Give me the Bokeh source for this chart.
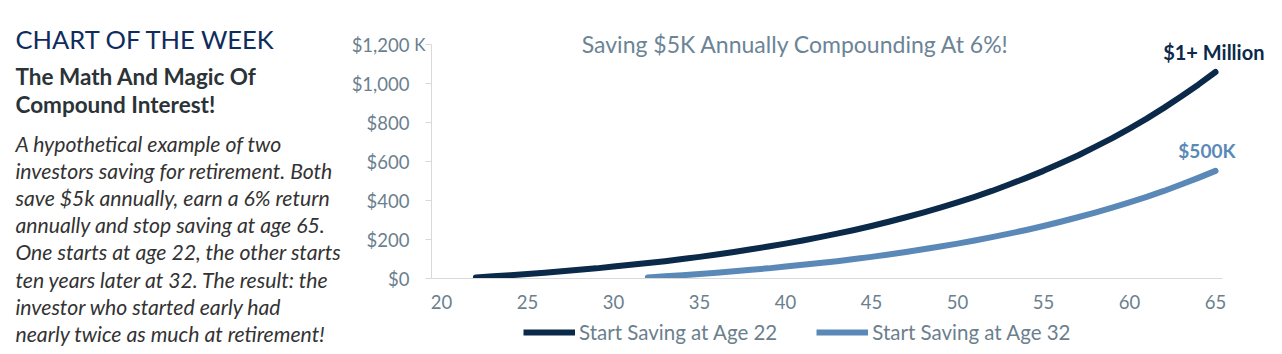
from bokeh.plotting import figure
from bokeh.layouts import row, column
from bokeh.models import Range1d, FixedTicker, Legend, LegendItem, Label, LinearAxis
from bokeh.core.properties import value
from bokeh.embed import file_html
from bokeh.resources import INLINE

# ---- data (values in $K) ----
ages_early = list(range(22, 66))
values_early = [5, 11, 17, 23, 30, 37, 45, 52, 61, 70, 79, 89, 100, 111, 123, 136,
                150, 164, 179, 195, 212, 230, 249, 269, 291, 314, 338, 363, 390, 419,
                449, 482, 516, 552, 591, 631, 675, 720, 769, 820, 875, 933, 994, 1059]
ages_late = list(range(32, 66))
values_late = [5, 11, 17, 23, 30, 37, 45, 52, 61, 70, 79, 89, 100, 111, 123, 136,
               150, 164, 179, 195, 212, 230, 249, 269, 291, 314, 338, 363, 390, 419,
               449, 482, 516, 552]
series_names = ["Start Saving at Age 22", "Start Saving at Age 32"]
x_ticks = [20, 25, 30, 35, 40, 45, 50, 55, 60, 65]
y_ticks = [0, 200, 400, 600, 800, 1000, 1200]
y_tick_labels = ["$0", "$200", "$400", "$600", "$800", "$1,000", "$1,200"]
y_unit = "K"

title_text = "Saving $5K Annually Compounding At 6%!"
end_labels = ["$1+ Million", "$500K"]

header = "CHART OF THE WEEK"
subtitle = ["The Math And Magic Of", "Compound Interest!"]
paragraph = [
    "A hypothetical example of two",
    "investors saving for retirement. Both",
    "save $5k annually, earn a 6% return",
    "annually and stop saving at age 65.",
    "One starts at age 22, the other starts",
    "ten years later at 32. The result: the",
    "investor who started early had",
    "nearly twice as much at retirement!",
]

NAVY = "#0b2a4a"
LIGHT = "#5a89b8"
GRAY = "#6b7f8e"
FONT = "Lato"

W_LEFT = 346
H_CHART = 318
FRAME_LEFT = 431
PX_PER_YEAR = 17.2
PX_PER_K = 0.195

# ---- left text panel ----
left = figure(width=W_LEFT, height=354, x_range=Range1d(0, W_LEFT), y_range=Range1d(354, 0),
              output_backend="svg", toolbar_location=None, min_border=0)
left.axis.visible = False
left.grid.visible = False
left.outline_line_color = None

left.text(x=[15], y=[38], text=[header], text_font=value(FONT), text_font_size="25.5px",
          text_color="#0f2d5c", text_baseline="middle", text_align="left")
left.text(x=[15, 15], y=[76, 104], text=subtitle, text_font=value(FONT), text_font_size="22.5px",
          text_font_style="bold", text_color="#2b3338", text_baseline="middle", text_align="left")
py = [143 + 27.2 * i for i in range(len(paragraph))]
left.text(x=[15] * len(paragraph), y=py, text=paragraph, text_font=value(FONT),
          text_font_size="21.2px", text_font_style="italic", text_color="#333333",
          text_baseline="middle", text_align="left")

# ---- chart ----
frame_w = 1282 - FRAME_LEFT
frame_h = 278
x0 = 20 - 10 / PX_PER_YEAR
p = figure(width=1282 - W_LEFT, height=H_CHART,
           x_range=Range1d(x0, x0 + frame_w / PX_PER_YEAR),
           y_range=Range1d(0, frame_h / PX_PER_K),
           output_backend="svg", toolbar_location=None, y_axis_location=None,
           min_border_left=FRAME_LEFT - W_LEFT, min_border_right=0, min_border_top=0,
           min_border_bottom=H_CHART - frame_h)
p.grid.visible = False
p.outline_line_color = None

r1 = p.line(ages_early, values_early, line_color=NAVY, line_width=6, line_cap="round", line_join="round")
r2 = p.line(ages_late, values_late, line_color=LIGHT, line_width=6, line_cap="round", line_join="round")

# inner y axis: line, ticks and the unit "K" at the top tick
ax_in = LinearAxis(ticker=FixedTicker(ticks=y_ticks), bounds=(0, 1200),
                   major_label_overrides={t: (y_unit if t == 1200 else "") for t in y_ticks},
                   axis_line_color="#d9d9d9", major_tick_line_color="#d9d9d9",
                   major_tick_out=6, major_tick_in=0, minor_tick_line_color=None,
                   major_label_standoff=0, axis_label_standoff=0, major_label_text_font=FONT,
                   major_label_text_font_size="17px", major_label_text_color=GRAY)
# outer y axis: dollar labels
ax_out = LinearAxis(ticker=FixedTicker(ticks=y_ticks), bounds=(0, 1200),
                    major_label_overrides={t: l for t, l in zip(y_ticks, y_tick_labels)},
                    axis_line_color=None, major_tick_line_color=None, minor_tick_line_color=None,
                    major_tick_out=0, major_tick_in=0, major_label_standoff=2, axis_label_standoff=0,
                    major_label_text_font=FONT, major_label_text_font_size="18.5px",
                    major_label_text_color=GRAY)
p.add_layout(ax_in, "left")
p.add_layout(ax_out, "left")

p.xaxis.ticker = FixedTicker(ticks=x_ticks)
p.xaxis.bounds = (x0, 65.4)
p.xaxis.axis_line_color = "#d9d9d9"
p.xaxis.major_tick_line_color = None
p.xaxis.minor_tick_line_color = None
p.xaxis.major_tick_out = 0
p.xaxis.major_tick_in = 0
p.xaxis.axis_label_standoff = 0
p.xaxis.major_label_text_font = FONT
p.xaxis.major_label_text_font_size = "18.5px"
p.xaxis.major_label_text_color = GRAY
p.xaxis.major_label_standoff = 16

p.add_layout(Label(x=40.6, y=1205, text=title_text, text_font=FONT, text_font_size="23px",
                   text_color="#6b8496", text_align="center", text_baseline="middle"))
p.add_layout(Label(x=64.9, y=1164, text=end_labels[0], text_font=FONT, text_font_size="20px",
                   text_font_style="bold", text_color=NAVY, text_align="center", text_baseline="middle"))
p.add_layout(Label(x=64.5, y=656, text=end_labels[1], text_font=FONT, text_font_size="19px",
                   text_font_style="bold", text_color=LIGHT, text_align="center", text_baseline="middle"))

# ---- legend strip (frame aligned with the chart frame by the column) ----
H_LEG = 354 - H_CHART
lg = figure(width=1282 - W_LEFT, height=H_LEG, x_range=Range1d(0, 1), y_range=Range1d(0, 1),
            output_backend="svg", toolbar_location=None, min_border=0)
lg.axis.visible = False
lg.grid.visible = False
lg.outline_line_color = None
# legend-only renderers placed outside the visible range
d1 = lg.line([5, 6], [5, 5], line_color=NAVY, line_width=6)
d2 = lg.line([5, 6], [5, 5], line_color=LIGHT, line_width=6)
legend = Legend(items=[LegendItem(label=series_names[0], renderers=[d1]),
                       LegendItem(label=series_names[1], renderers=[d2])],
                orientation="horizontal", location=(92, 10), padding=0, margin=0,
                spacing=39, label_standoff=4, glyph_width=52, glyph_height=20,
                label_text_font=FONT, label_text_font_size="20.5px", label_text_color=GRAY,
                label_text_baseline="middle", label_height=20,
                border_line_color=None, background_fill_alpha=0)
lg.add_layout(legend, "center")

layout = row(left, column(p, lg, spacing=0), spacing=0)
open("out.html", "w").write(file_html(layout, INLINE))
